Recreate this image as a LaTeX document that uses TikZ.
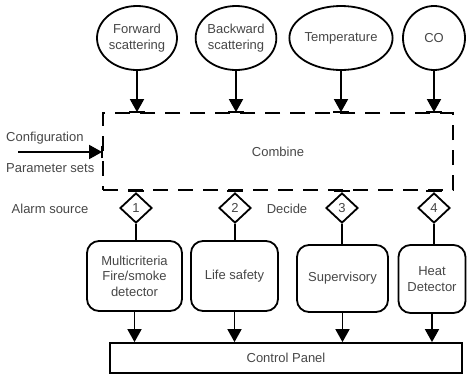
\documentclass[tikz,border=0pt]{standalone}
\usepackage{fontspec}
\setmainfont{Liberation Sans}
\usetikzlibrary{shapes.geometric,arrows.meta}
\begin{document}
\begin{tikzpicture}[x=1pt,y=-1pt,
  every node/.style={font=\fontsize{13}{15.5}\selectfont, text=black!72, inner sep=0pt, align=center},
  sensor/.style={draw=black, line width=1.8pt, ellipse, minimum height=64pt},
  combbox/.style={draw=black, line width=1.8pt, dash pattern=on 15pt off 10pt, rectangle},
  dia/.style={draw=black, line width=1.8pt, diamond, minimum width=32pt, minimum height=30pt},
  alarmbox/.style={draw=black, line width=1.8pt, rounded corners=12pt, rectangle},
  panel/.style={draw=black, line width=1.8pt, rectangle},
  arr/.style={draw=black, line width=1.8pt, -{Triangle[length=13pt,width=14pt]}},
  conn/.style={draw=black, line width=1.8pt},
  barseg/.style={draw=black, line width=1.8pt}
]
\useasboundingbox (0,0) rectangle (467,381);
\fill[white] (0,0) rectangle (467,381);

% sensors
\node[sensor, minimum width=80pt] (fs) at (137,38) {Forward\\scattering};
\node[sensor, minimum width=76pt] (bs) at (236,38) {Backward\\scattering};
\node[sensor, minimum width=96pt] (tp) at (341,38) {Temperature};
\node[sensor, minimum width=62pt] (co) at (434,38) {CO};

% combine
\node[combbox, minimum width=350pt, minimum height=77pt] (cb) at (278,151.5) {Combine};

% side labels
\node[anchor=west] (cfgt) at (6,138) {Configuration};
\node[anchor=west] (part) at (6,168) {Parameter sets};
\coordinate (cfg) at (18,152);
\node (alarm) at (50,209) {Alarm source};
\node (decide) at (287,209) {Decide};

% diamonds
\node[dia] (d1) at (136,208) {1};
\node[dia] (d2) at (235,208) {2};
\node[dia] (d3) at (342,208) {3};
\node[dia] (d4) at (434,208) {4};

% alarm boxes
\node[alarmbox, minimum width=95pt, minimum height=70pt] (b1) at (134.5,276) {Multicriteria\\Fire/smoke\\detector};
\node[alarmbox, minimum width=87pt, minimum height=70pt] (b2) at (234.5,276) {Life safety};
\node[alarmbox, minimum width=91pt, minimum height=67pt] (b3) at (342.5,278.5) {Supervisory};
\node[alarmbox, minimum width=67pt, minimum height=68pt] (b4) at (432,279) {Heat\\Detector};

% control panel
\node[panel, minimum width=352pt, minimum height=30pt] (cp) at (286,358) {Control Panel};

% sensor arrows
\foreach \s in {fs,bs,tp,co}{
  \draw[arr] (\s.south) -- (\s.south |- cb.north);
  \draw[barseg] ([xshift=-8pt]\s.south |- cb.north) -- ([xshift=8pt]\s.south |- cb.north);
}

% config arrow
\draw[arr] (cfg) -- (cfg -| cb.west);
\draw[barseg] ([yshift=-6pt]cfg -| cb.west) -- ([yshift=6pt]cfg -| cb.west);

% diamonds to combine and boxes
\foreach \d/\b in {d1/b1,d2/b2,d3/b3,d4/b4}{
  \draw[conn] (\d.north) -- (\d.north |- cb.south);
  \draw[barseg] ([xshift=-8pt]\d.north |- cb.south) -- ([xshift=8pt]\d.north |- cb.south);
  \draw[conn] (\d.south) -- (\d.south |- \b.north);
}

% boxes to panel
\foreach \b in {b1,b2,b3,b4}{
  \draw[arr] (\b.south) -- (\b.south |- cp.north);
}
\end{tikzpicture}
\end{document}
